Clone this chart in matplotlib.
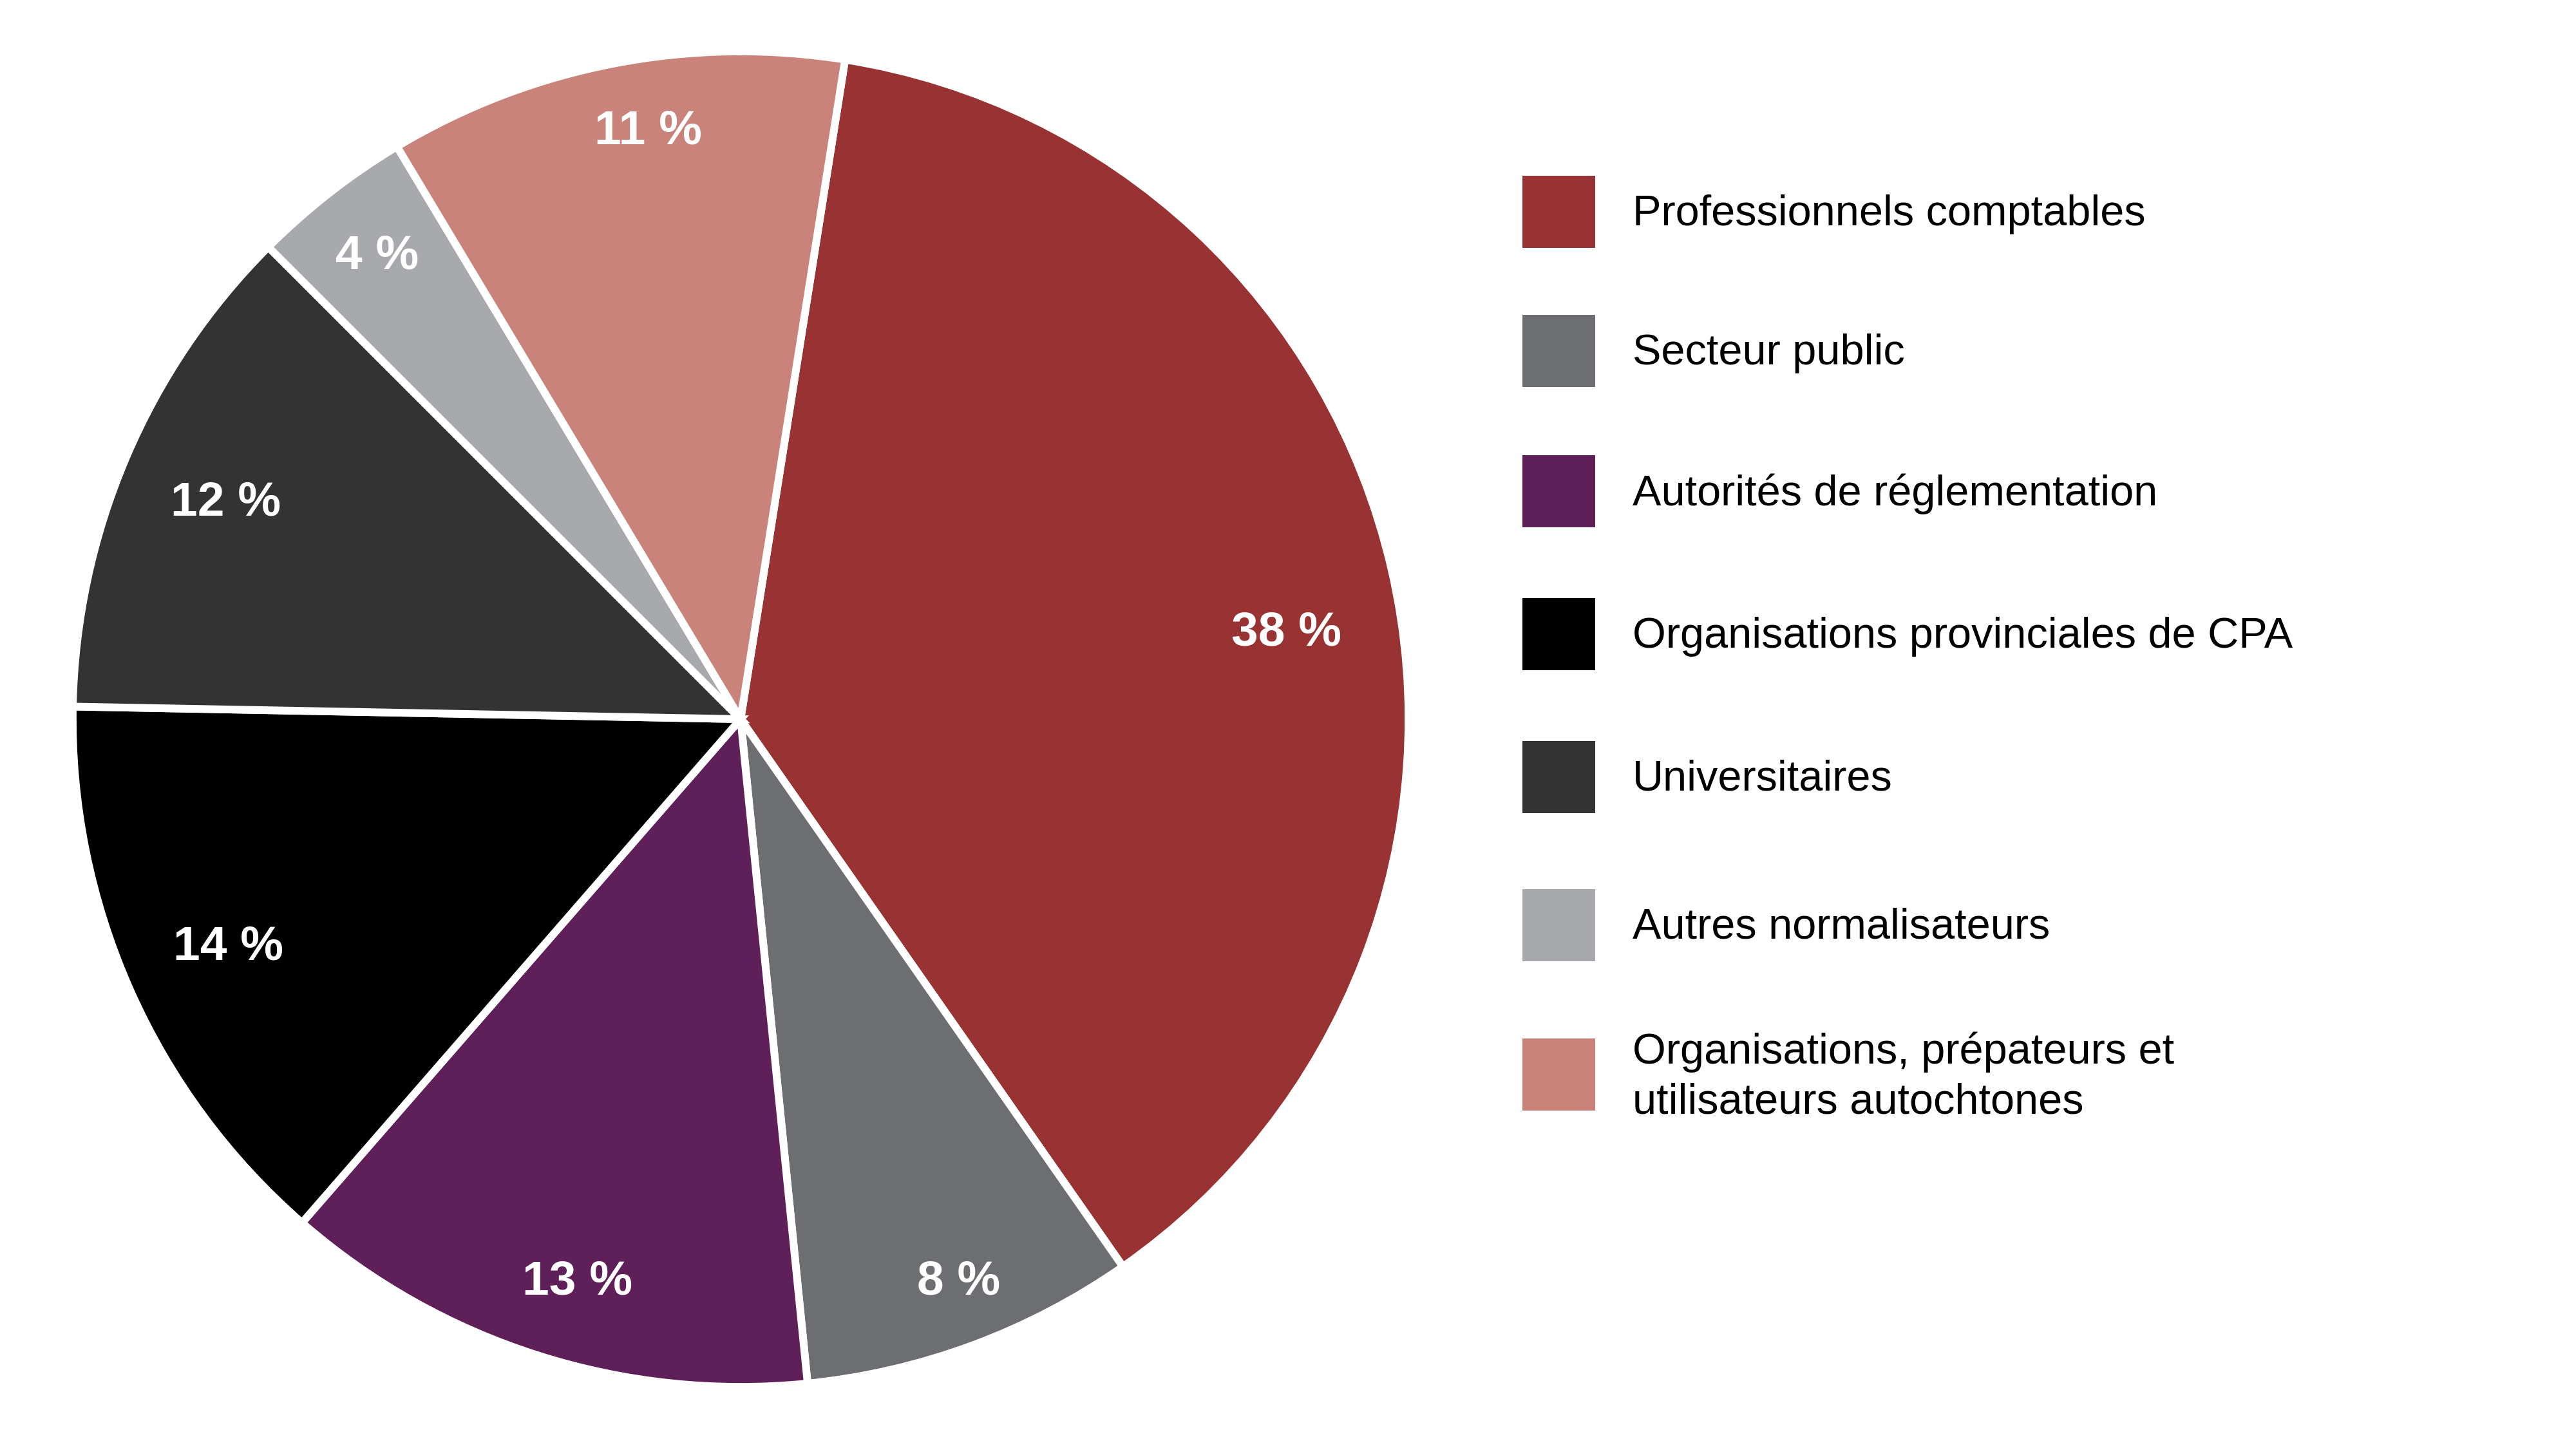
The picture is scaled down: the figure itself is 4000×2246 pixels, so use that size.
import numpy as np
import matplotlib
matplotlib.use("Agg")
import matplotlib.pyplot as plt
from matplotlib.patches import Rectangle

# Données du graphique
categories = [
    "Professionnels comptables",
    "Secteur public",
    "Autorités de réglementation",
    "Organisations provinciales de CPA",
    "Universitaires",
    "Autres normalisateurs",
    "Organisations, prépateurs et\nutilisateurs autochtones",
]
values = [37.8, 8.1, 13.0, 13.9, 12.2, 3.9, 11.1]
colors = ["#993333", "#6d6e71", "#5f1f59", "#000000", "#333333", "#a7a9ac", "#c9837a"]

# Placement des étiquettes : distance radiale et décalage angulaire (degrés, sens horaire)
label_radius = [0.828, 0.900, 0.874, 0.838, 0.838, 0.885, 0.895]
label_shift = [3.7, -0.9, -1.4, 0.2, 0.0, 0.0, 2.1]

plt.rcParams["font.family"] = ["Liberation Sans", "DejaVu Sans"]

fig = plt.figure(figsize=(40, 22.46), dpi=100)

# Graphique circulaire
ax = fig.add_axes([0.01525, 0.01781, 0.5445, 0.96972])
wedges, texts, autotexts = ax.pie(
    values,
    colors=colors,
    startangle=81,
    counterclock=False,
    autopct=lambda p: f"{p:.0f} %",
    wedgeprops=dict(edgecolor="white", linewidth=8.6),
    textprops=dict(color="white", fontsize=54, fontweight="bold"),
)
for w, t, r, s in zip(wedges, autotexts, label_radius, label_shift):
    ang = np.deg2rad((w.theta1 + w.theta2) / 2 - s)
    t.set_position((r * np.cos(ang), r * np.sin(ang) - 0.004))
ax.set_xlim(-1.05, 1.05)
ax.set_ylim(-1.05, 1.05)
ax.set_aspect("equal")
ax.axis("off")

# Légende (dessinée à la main en pixels)
leg = fig.add_axes([0, 0, 1, 1])
leg.set_xlim(0, 4000)
leg.set_ylim(2246, 0)
leg.axis("off")
legend_y = [329, 545, 763, 985, 1207, 1437, 1669]
for label, color, cy in zip(categories, colors, legend_y):
    leg.add_patch(Rectangle((2364, cy - 56), 113, 112, facecolor=color, edgecolor="none"))
    leg.text(2535, cy + 4, label, fontsize=48, color="black", va="center", ha="left",
             linespacing=1.32)

fig.savefig("out.png", dpi=100, facecolor="white")
